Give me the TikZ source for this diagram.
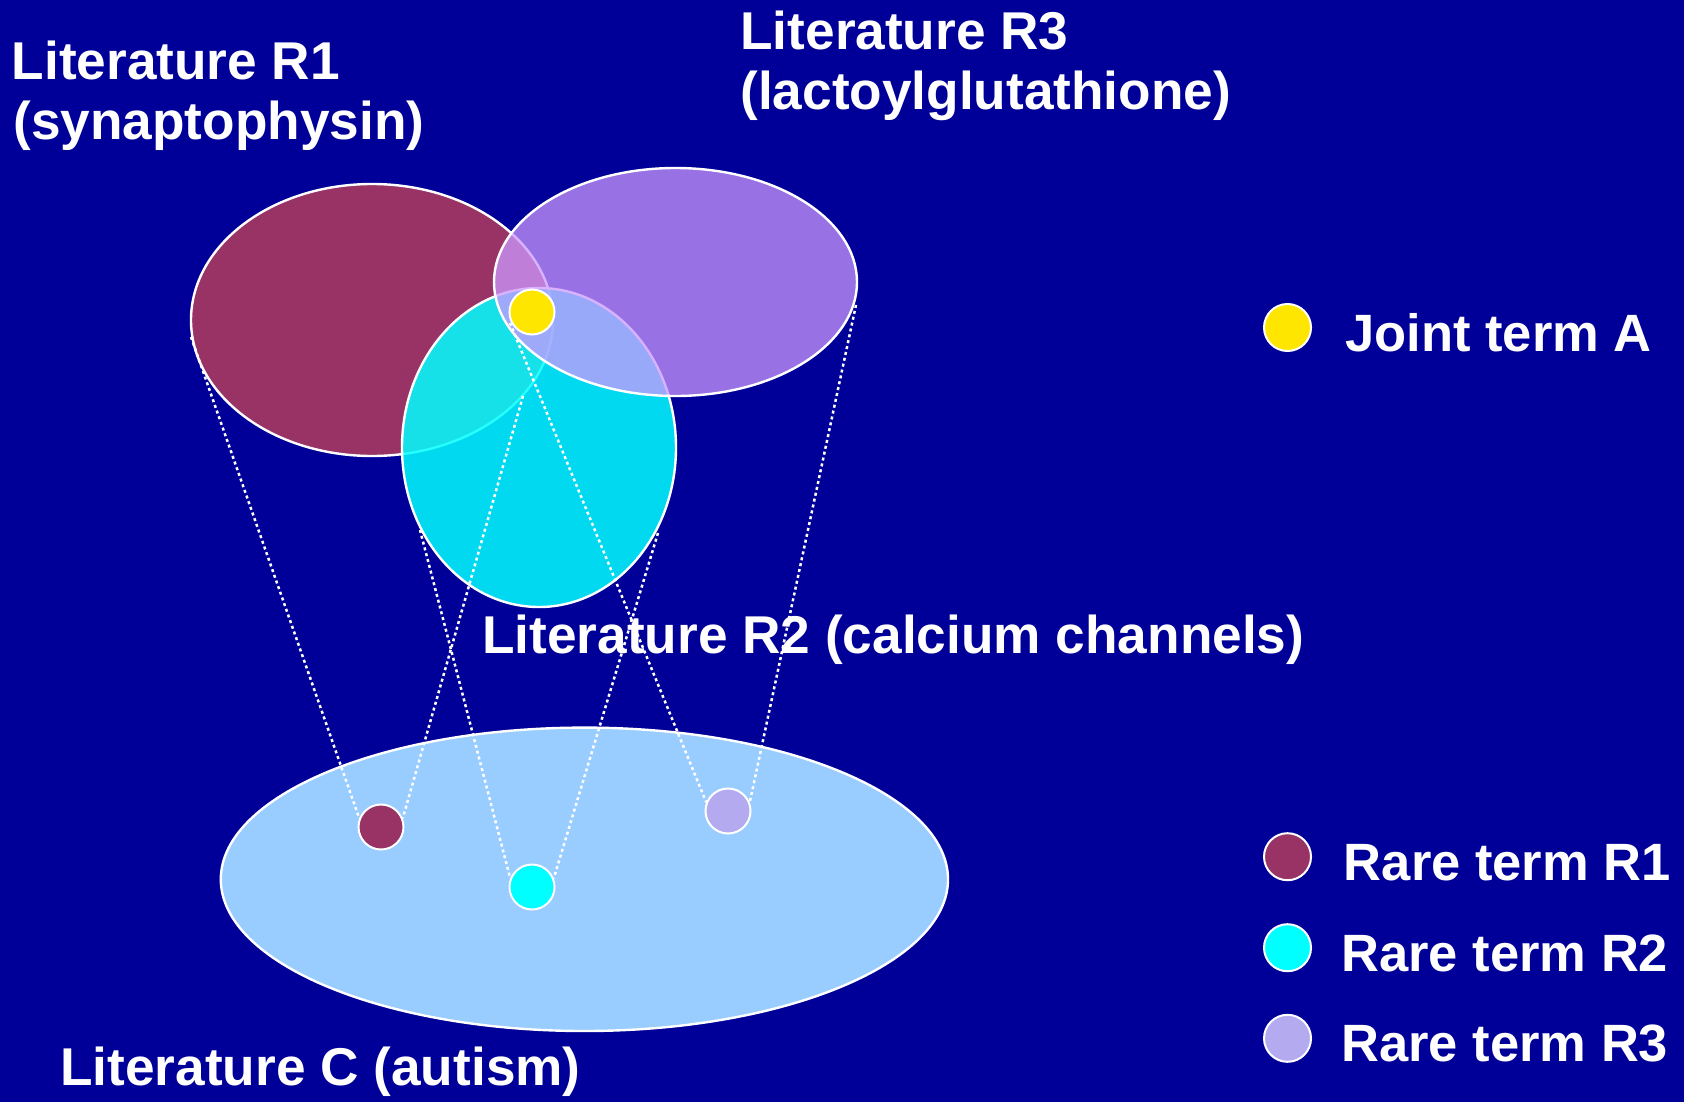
\documentclass[tikz,border=0pt]{standalone}
\usepackage{fontspec}
\setmainfont{Liberation Sans}
\usetikzlibrary{shapes.geometric}

\definecolor{navy}{RGB}{0,0,153}
\definecolor{maroonfill}{RGB}{153,51,102}
\definecolor{aqua}{RGB}{0,255,255}
\definecolor{lilac}{RGB}{204,153,255}
\definecolor{skyfill}{RGB}{153,204,255}
\definecolor{termyellow}{RGB}{255,230,0}
\definecolor{termlav}{RGB}{179,170,240}

\pgfdeclarelayer{front}
\pgfsetlayers{main,front}

\tikzset{
  lit/.style={ellipse, draw=white, line width=1.2pt, inner sep=0pt, outer sep=0pt},
  term/.style={circle, draw=white, line width=1pt, inner sep=0pt, minimum size=22.5pt},
  heading/.style={text=white, font=\fontsize{26.6}{28}\selectfont\bfseries,
                  inner sep=0pt, anchor=base west},
  legendtext/.style={heading, font=\fontsize{26.25}{28}\selectfont\bfseries},
  cone/.style={draw=white, line width=1.25pt, dash pattern=on 1.5pt off 1.5pt},
}

\begin{document}
\begin{tikzpicture}[x=0.5pt,y=-0.5pt]
  \useasboundingbox (0,0) rectangle (1684,1102);
  \fill[navy] (0,0) rectangle (1684,1102);

  % literature sets
  \node[lit, fill=skyfill, minimum width=363.6pt, minimum height=151.7pt] (litC) at (584.4,879.3) {};
  \node[lit, fill=maroonfill, minimum width=181pt, minimum height=136pt] (litR1) at (372,320) {};
  \node[lit, fill=aqua, fill opacity=0.85, minimum width=137pt, minimum height=159.5pt] (litR2) at (539,447.5) {};
  \node[lit, fill=lilac, fill opacity=0.75, minimum width=181.5pt, minimum height=114pt] (litR3) at (675.5,282) {};

  % terms, kept above the cones
  \begin{pgfonlayer}{front}
    \node[term, fill=maroonfill] (t1) at (381,827) {};
    \node[term, fill=aqua] (t2) at (532,887) {};
    \node[term, fill=termlav] (t3) at (728,811) {};
    \node[term, fill=termyellow] (jointA) at (532,312) {};
  \end{pgfonlayer}

  % upper ends of the projection cones
  \coordinate (r1l) at (191,337);
  \coordinate (r1r) at (523,396);
  \coordinate (r2l) at (420,530);
  \coordinate (r2r) at (658,533);
  \coordinate (r3l) at (510,323);
  \coordinate (r3r) at (856,305);

  \draw[cone] (r1l) -- (t1.158);
  \draw[cone] (r1r) -- (t1.22);
  \draw[cone] (r2l) -- (t2.158);
  \draw[cone] (r2r) -- (t2.22);
  \draw[cone] (r3l) -- (t3.158);
  \draw[cone] (r3r) -- (t3.22);

  % titles
  \node[heading] (r1a) at (11.5,79.3) {Literature R1};
  \node[heading] (r1b) at (13,140) {(synaptophysin)};
  \node[heading] (r3a) at (740,49.3) {Literature R3};
  \node[heading] (r3b) at (740,110) {(lactoylglutathione)};
  \node[heading] (r2t) at (482,653.5) {Literature R2 (calcium channels)};
  \node[heading] (ctitle) at (60,1085) {Literature C (autism)};

  % legend
  \node[term, fill=termyellow, minimum size=23.5pt] (legA) at (1287.5,327.5) {};
  \node[term, fill=maroonfill, minimum size=23.5pt] (leg1) at (1287.5,856.7) {};
  \node[term, fill=aqua, minimum size=23.5pt] (leg2) at (1287.5,947.7) {};
  \node[term, fill=termlav, minimum size=23.5pt] (leg3) at (1287.5,1038.3) {};
  \node[legendtext] (legAt) at (1345,351.7) {Joint term A};
  \node[legendtext] (leg1t) at (1343.5,880.7) {Rare term R1};
  \node[legendtext] (leg2t) at (1341,971) {Rare term R2};
  \node[legendtext] (leg3t) at (1341,1061.7) {Rare term R3};
\end{tikzpicture}
\end{document}
